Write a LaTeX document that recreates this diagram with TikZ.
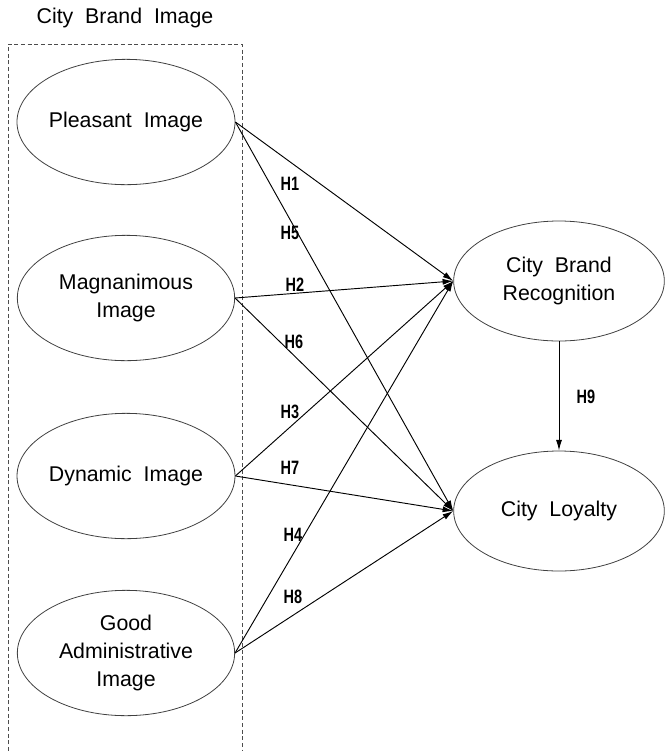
\documentclass[tikz,border=0pt]{standalone}
\usepackage{fontspec}
\setmainfont{Liberation Sans}[WordSpace=2]
\newfontfamily\hypfont{Liberation Sans}[FakeStretch=0.75]
\usepackage{tikz}
\usetikzlibrary{shapes.geometric,arrows.meta}

\begin{document}
\begin{tikzpicture}[x=0.75pt, y=-0.75pt,
    construct/.style={ellipse, draw=black!75, line width=0.6pt, align=center,
        minimum width=163pt, minimum height=94pt, inner sep=0pt,
        font=\fontsize{16}{21}\selectfont},
    outcome/.style={construct, minimum width=158pt, minimum height=90pt},
    path/.style={line width=0.7pt, -{Latex[length=8pt,width=4.5pt]}},
    hyp/.style={font=\hypfont\bfseries\fontsize{14.5}{16}\selectfont, inner sep=0pt}]
    \useasboundingbox (0,0) rectangle (665,751);

    % group box
    \node[font=\fontsize{16}{19}\selectfont] (group) at (125,18) {City Brand Image};
    \draw[densely dashed, black!70, line width=0.6pt] (8,751) -- (8,44) -- (242,44) -- (242,751);

    % constructs
    \node[construct] (pleasant) at (126,122) {Pleasant Image};
    \node[construct] (magnan) at (126,298) {Magnanimous\\Image};
    \node[construct] (dynamic) at (126,476) {Dynamic Image};
    \node[construct] (admin) at (126,653) {Good\\Administrative\\Image};
    \node[outcome] (recog) at (559,281) {City Brand\\Recognition};
    \node[outcome] (loyal) at (559,511) {City Loyalty};

    % hypotheses
    \foreach \src/\dst in {pleasant/recog, pleasant/loyal, magnan/recog, magnan/loyal,
                           dynamic/recog, dynamic/loyal, admin/recog, admin/loyal} {
        \draw[path] (\src.east) -- (\dst.west);
    }
    \draw[path] (recog.south) -- (loyal.north);

    % labels
    \foreach \n/\x/\y in {1/290/184, 5/290/233, 2/295/285, 6/294/342,
                          3/290/412, 7/290/468, 4/293/535, 8/293/597, 9/586/397} {
        \node[hyp] (h\n) at (\x,\y) {H\n};
    }
\end{tikzpicture}
\end{document}
